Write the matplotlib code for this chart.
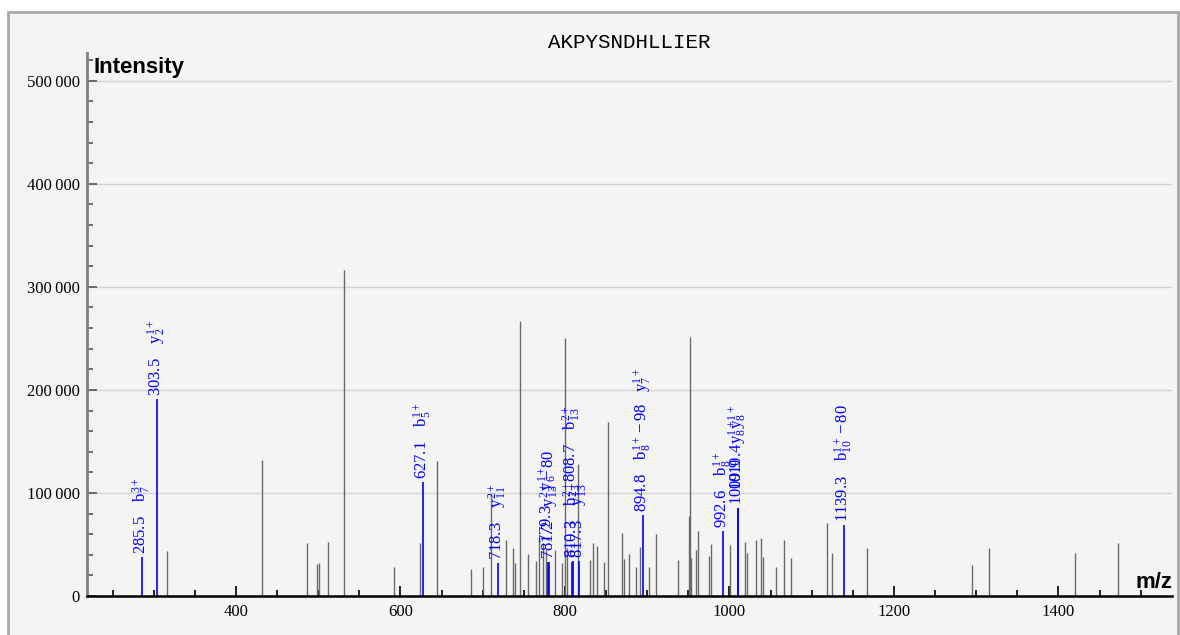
import matplotlib
matplotlib.use('Agg')
from matplotlib import pyplot as plt
from matplotlib.ticker import MultipleLocator, FuncFormatter
from matplotlib.patches import Rectangle

plt.rcParams['font.family'] = ['Liberation Serif', 'DejaVu Serif']
plt.rcParams['mathtext.fontset'] = 'custom'
plt.rcParams['mathtext.rm'] = 'Liberation Serif'
plt.rcParams['mathtext.it'] = 'Liberation Serif:italic'
plt.rcParams['mathtext.bf'] = 'Liberation Serif:bold'

peptide = 'AKPYSNDHLLIER'

# unmatched peaks (grey sticks)
peak_mz = [316.5, 432.0, 486.3, 498.8, 500.5, 512.2, 531.3, 592.1, 623.7, 644.7, 685.4,
           700.0, 709.7, 727.9, 736.8, 739.6, 745.7, 755.4, 764.4, 768.4, 772.9, 776.9,
           787.8, 796.0, 799.6, 802.8, 816.0, 830.4, 834.4, 838.5, 847.4, 852.6, 869.6,
           871.7, 878.2, 885.9, 891.2, 902.5, 910.6, 937.0, 951.1, 952.0, 953.6, 959.7,
           961.3, 974.7, 977.1, 1000.6, 1019.2, 1020.9, 1032.6, 1038.3, 1041.1, 1056.9,
           1065.9, 1074.8, 1118.2, 1124.2, 1166.8, 1294.4, 1315.9, 1419.7, 1472.8]
peak_int = [44000, 132300, 51500, 30800, 31700, 52100, 316500, 27900, 51200, 131400, 26500,
            27700, 99700, 53900, 46900, 32300, 267000, 40800, 34000, 57600, 51200, 44700,
            44700, 32300, 250500, 46300, 128000, 35000, 51200, 48900, 33300, 169300, 61500,
            35600, 40800, 28500, 47900, 28500, 59900, 35000, 78000, 251800, 36600, 44700,
            63100, 38800, 50500, 49500, 52100, 41500, 54400, 56000, 38200, 27900,
            54400, 36600, 70600, 41500, 46900, 30100, 46300, 42000, 51200]

# matched fragment ions (blue)
ion_mz = [285.5, 303.5, 627.1, 718.3, 779.3, 781.2, 808.7, 810.3, 817.3, 894.8,
          992.6, 1009.9, 1010.4, 1139.3]
ion_int = [38000, 191500, 110400, 32300, 33000, 33000, 33000, 34000, 34000, 78600,
           63000, 85000, 85000, 68900]
ion_names = [r'\mathrm{b}_{7}^{3+}', r'\mathrm{y}_{2}^{1+}', r'\mathrm{b}_{5}^{1+}',
             r'\mathrm{y}_{11}^{2+}', r'\mathrm{y}_{6}^{1+}', r'\mathrm{y}_{13}^{2+}-80',
             r'\mathrm{b}_{13}^{2+}', r'\mathrm{b}_{13}^{2+}', r'\mathrm{y}_{13}^{2+}',
             r'\mathrm{b}_{8}^{1+}-98\quad\mathrm{y}_{7}^{1+}', r'\mathrm{b}_{8}^{1+}',
             r'\mathrm{y}_{8}^{1+}', r'\mathrm{y}_{8}^{1+}', r'\mathrm{b}_{10}^{1+}-80']

# labels pushed up where they collide
label_lift = {779.3: 15000, 808.7: 75000, 1010.4: 15000}

fig = plt.figure(figsize=(11.8, 6.35), dpi=100)
fig.patch.set_facecolor('white')
fig.add_artist(Rectangle((8 / 1180, -0.1), 1170 / 1180, 1 - 12 / 635 + 0.1,
                         transform=fig.transFigure, facecolor='#f4f4f4',
                         edgecolor='#a9a9a9', lw=2, zorder=0))

ax = fig.add_axes([87 / 1180, 39 / 635, 1085 / 1180, 543 / 635])
ax.set_facecolor('none')

ax.vlines(peak_mz, 0, peak_int, colors='#6a6a6a', lw=1)
ax.vlines(ion_mz, 0, ion_int, colors='blue', lw=1.2)

for mz, h, name in zip(ion_mz, ion_int, ion_names):
    y0 = h + 3000 + label_lift.get(mz, 0)
    s = r'$\mathrm{%.1f}\quad\;%s$' % (mz, name)
    ax.text(mz, y0, s, rotation=90, ha='center', va='bottom', color='blue', fontsize=12)

ax.set_xlim(219, 1538)
ax.set_ylim(0, 527000)

ax.xaxis.set_major_locator(MultipleLocator(200))
ax.xaxis.set_minor_locator(MultipleLocator(50))
ax.yaxis.set_major_locator(MultipleLocator(100000))
ax.yaxis.set_minor_locator(MultipleLocator(20000))
ax.yaxis.set_major_formatter(FuncFormatter(
    lambda v, p: '0' if v == 0 else f'{int(v):,}'.replace(',', '\u2009')))

ax.tick_params(axis='x', which='major', direction='in', length=7, width=1.2,
               color='black', labelsize=12, pad=6)
ax.tick_params(axis='x', which='minor', direction='in', length=4.5, width=1.2, color='black')
ax.tick_params(axis='y', which='major', direction='in', length=7, width=1.2,
               color='#555555', labelsize=12, pad=5)
ax.tick_params(axis='y', which='minor', direction='in', length=4.5, width=1.2, color='#555555')

for side in ['top', 'right']:
    ax.spines[side].set_visible(False)
ax.spines['left'].set_color('#808080')
ax.spines['left'].set_linewidth(2)
ax.spines['bottom'].set_color('black')
ax.spines['bottom'].set_linewidth(1.8)

ax.yaxis.grid(True, color='#d4d4d4', lw=1)
ax.set_axisbelow(True)

fig.text(93 / 1180, 1 - 68 / 635, 'Intensity', ha='left', va='center', fontsize=16,
         fontweight='bold', family='Liberation Sans')
fig.text(1172 / 1180, 1 - 582 / 635, 'm/z', ha='right', va='center', fontsize=16,
         fontweight='bold', family='Liberation Sans')
fig.text(629 / 1180, 1 - 42 / 635, peptide, ha='center', va='center', fontsize=15,
         family='Liberation Mono')

fig.savefig('out.png', dpi=100)
